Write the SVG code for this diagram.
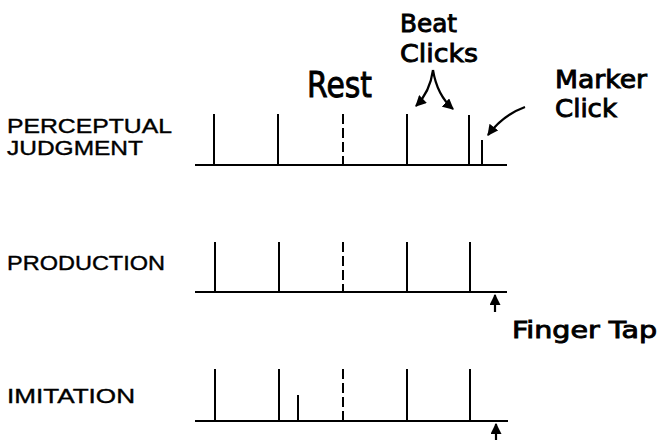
<svg xmlns="http://www.w3.org/2000/svg" width="661" height="440" viewBox="0 0 661 440">
<style>
.lbl{font-family:"Liberation Sans",Arial,sans-serif;font-size:21px;fill:#000;stroke:#000;stroke-width:0.4}
.hand{font-family:"DejaVu Sans","Liberation Sans",sans-serif;fill:#000;stroke:#000;stroke-width:0.9}
.base{stroke:#000;stroke-width:2;fill:none}
.tick{stroke:#000;stroke-width:2;fill:none}
.rest{stroke:#000;stroke-width:2;fill:none;stroke-dasharray:10 4}
.conn{stroke:#000;stroke-width:2.2;fill:none}
</style>
<defs>
<marker id="ah" viewBox="0 0 10 10" refX="9" refY="5" markerWidth="5" markerHeight="5" orient="auto" markerUnits="strokeWidth">
<path d="M0,0 L10,5 L0,10 Z" fill="#000"/>
</marker>
</defs>
<rect width="661" height="440" fill="#fff"/>

<g id="perceptual">
<text class="lbl" x="7" y="133" textLength="165" lengthAdjust="spacingAndGlyphs">PERCEPTUAL</text>
<text class="lbl" x="7" y="155" textLength="136" lengthAdjust="spacingAndGlyphs">JUDGMENT</text>
<line class="base" x1="195" y1="165" x2="507" y2="165"/>
<line class="tick" x1="214" y1="114" x2="214" y2="165"/>
<line class="tick" x1="278" y1="114" x2="278" y2="165"/>
<line class="rest" x1="343" y1="114" x2="343" y2="165"/>
<line class="tick" x1="407" y1="114" x2="407" y2="165"/>
<line class="tick" x1="469" y1="115" x2="469" y2="165"/>
<line class="tick" x1="482" y1="140" x2="482" y2="165"/>
</g>

<g id="production">
<text class="lbl" x="7" y="270" textLength="158" lengthAdjust="spacingAndGlyphs">PRODUCTION</text>
<line class="base" x1="195" y1="292" x2="507" y2="292"/>
<line class="tick" x1="215" y1="242" x2="215" y2="292"/>
<line class="tick" x1="279" y1="242" x2="279" y2="292"/>
<line class="rest" x1="343" y1="242" x2="343" y2="292"/>
<line class="tick" x1="407" y1="242" x2="407" y2="292"/>
<line class="tick" x1="470" y1="242" x2="470" y2="292"/>
</g>

<g id="imitation">
<text class="lbl" x="7" y="403" textLength="128" lengthAdjust="spacingAndGlyphs">IMITATION</text>
<line class="base" x1="195" y1="421" x2="508" y2="421"/>
<line class="tick" x1="215" y1="369" x2="215" y2="421"/>
<line class="tick" x1="279" y1="369" x2="279" y2="421"/>
<line class="tick" x1="298" y1="395" x2="298" y2="421"/>
<line class="rest" x1="343" y1="369" x2="343" y2="421"/>
<line class="tick" x1="407" y1="369" x2="407" y2="421"/>
<line class="tick" x1="470" y1="369" x2="470" y2="421"/>
</g>

<g id="annotations">
<text class="hand" x="307" y="97" font-size="35" textLength="65" lengthAdjust="spacingAndGlyphs">Rest</text>
<text class="hand" x="400" y="32" font-size="24" textLength="57" lengthAdjust="spacingAndGlyphs">Beat</text>
<text class="hand" x="400" y="62" font-size="25" textLength="78" lengthAdjust="spacingAndGlyphs">Clicks</text>
<text class="hand" x="555" y="88" font-size="24" textLength="92" lengthAdjust="spacingAndGlyphs">Marker</text>
<text class="hand" x="555" y="117" font-size="25" textLength="62" lengthAdjust="spacingAndGlyphs">Click</text>
<text class="hand" x="512" y="338" font-size="23" textLength="145" lengthAdjust="spacingAndGlyphs">Finger Tap</text>
</g>

<g id="connectors">
<path class="conn" d="M433,70 Q430,92 416,106" marker-end="url(#ah)"/>
<path class="conn" d="M433,70 Q437,95 453,109" marker-end="url(#ah)"/>
<path class="conn" d="M525,107 Q503,115 488,135" marker-end="url(#ah)"/>
<line class="conn" x1="495" y1="312" x2="495" y2="295" marker-end="url(#ah)"/>
<line class="conn" x1="496" y1="440" x2="496" y2="424" marker-end="url(#ah)"/>
</g>
</svg>
